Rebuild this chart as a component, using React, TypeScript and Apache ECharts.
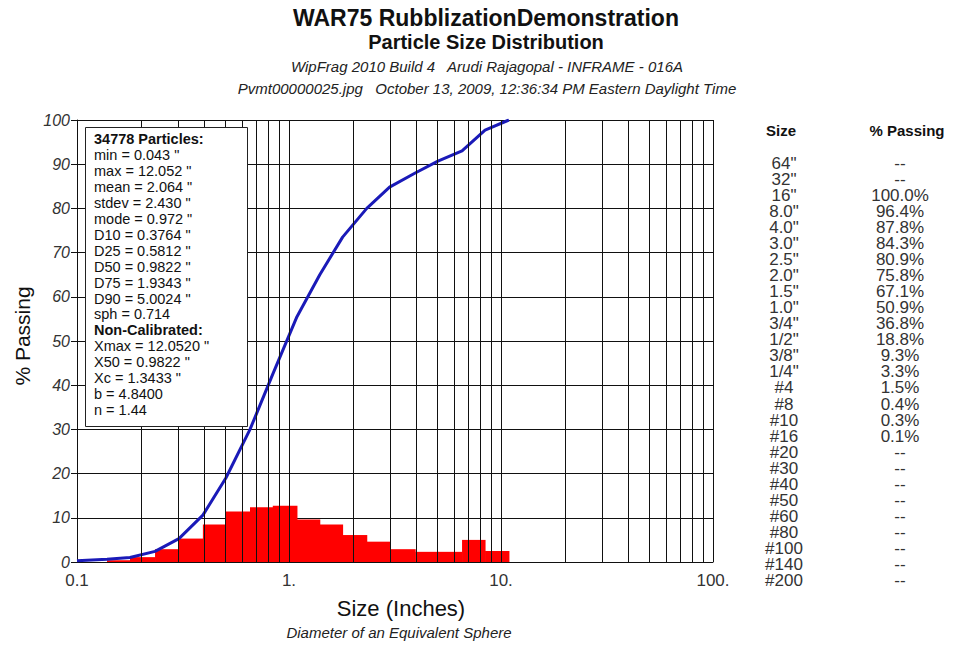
import React, { useEffect, useRef } from "react";
import * as echarts from "echarts";

// ---------- data ----------
const titleLines = ["WAR75 RubblizationDemonstration", "Particle Size Distribution"];
const titleSizes = [23, 20];
const subtitleLines = [
  "WipFrag 2010 Build 4   Arudi Rajagopal - INFRAME - 016A",
  "Pvmt00000025.jpg   October 13, 2009, 12:36:34 PM Eastern Daylight Time",
];

// histogram bins (inches) and % of particles in each bin
const binEdges = [0.1385, 0.1778, 0.2334, 0.3027, 0.3925, 0.5038, 0.6547, 0.8385, 1.0903, 1.397, 1.79, 2.327, 2.981, 3.938, 5.04, 6.55, 8.41, 10.9];
const binPercent = [0.4, 1.1, 2.9, 5.3, 8.5, 11.4, 12.4, 12.7, 9.6, 8.5, 6.1, 4.6, 2.9, 2.3, 2.3, 5.0, 2.5];

// cumulative % passing curve
const curveSizes = [0.1, 0.1385, 0.1778, 0.2334, 0.3027, 0.3925, 0.5038, 0.6547, 0.8385, 1.0903, 1.397, 1.79, 2.327, 2.981, 3.938, 5.04, 6.55, 8.41, 10.9];
const curvePassing = [0.3, 0.6, 1.0, 2.4, 5.3, 10.6, 19.0, 30.0, 42.5, 55.5, 65.0, 73.5, 80.0, 84.8, 88.0, 90.7, 93.0, 97.7, 100];

// axis ticks
const xTickValues = [0.1, 1, 10, 100];
const xTickLabels = ["0.1", "1.", "10.", "100."];
const xGridValues = [
  0.2, 0.3, 0.4, 0.5, 0.6, 0.7, 0.8, 0.9, 1,
  2, 3, 4, 5, 6, 7, 8, 9, 10,
  20, 30, 40, 50, 60, 70, 80, 90, 100,
];

// statistics box
const statsLines = [
  "34778 Particles:",
  "min = 0.043 \"",
  "max = 12.052 \"",
  "mean = 2.064 \"",
  "stdev = 2.430 \"",
  "mode = 0.972 \"",
  "D10 = 0.3764 \"",
  "D25 = 0.5812 \"",
  "D50 = 0.9822 \"",
  "D75 = 1.9343 \"",
  "D90 = 5.0024 \"",
  "sph = 0.714",
  "Non-Calibrated:",
  "Xmax = 12.0520 \"",
  "X50 = 0.9822 \"",
  "Xc = 1.3433 \"",
  "b = 4.8400",
  "n = 1.44",
];
const statsBold = ["34778 Particles:", "Non-Calibrated:"];

// sieve table
const sieveSizes = ["64\"", "32\"", "16\"", "8.0\"", "4.0\"", "3.0\"", "2.5\"", "2.0\"", "1.5\"", "1.0\"", "3/4\"", "1/2\"", "3/8\"", "1/4\"", "#4", "#8", "#10", "#16", "#20", "#30", "#40", "#50", "#60", "#80", "#100", "#140", "#200"];
const sievePassing = ["--", "--", "100.0%", "96.4%", "87.8%", "84.3%", "80.9%", "75.8%", "67.1%", "50.9%", "36.8%", "18.8%", "9.3%", "3.3%", "1.5%", "0.4%", "0.3%", "0.1%", "--", "--", "--", "--", "--", "--", "--", "--", "--"];

const FONT = "'Liberation Sans', Arial, sans-serif";

export default function App() {
  const ref = useRef<HTMLDivElement>(null);

  useEffect(() => {
    if (!ref.current) return;
    const chart = echarts.init(ref.current, null, { renderer: "svg" });

    const graphics: any[] = [];
    // titles
    titleLines.forEach((t, i) => {
      graphics.push({
        type: "text", x: 486, y: 18 + i * 24, z: 100,
        style: { text: t, font: `bold ${titleSizes[i]}px ${FONT}`, fill: "#111", textAlign: "center", textVerticalAlign: "middle" },
      });
    });
    subtitleLines.forEach((t, i) => {
      graphics.push({
        type: "text", x: 487, y: 66 + i * 22, z: 100,
        style: { text: t, font: `italic 15px ${FONT}`, fill: "#222", textAlign: "center", textVerticalAlign: "middle" },
      });
    });
    // y axis name
    graphics.push({
      type: "text", x: 22, y: 336, rotation: Math.PI / 2, z: 100,
      style: { text: "% Passing", font: `21px ${FONT}`, fill: "#111", textAlign: "center", textVerticalAlign: "middle" },
    });
    // x axis names
    graphics.push({
      type: "text", x: 401, y: 608, z: 100,
      style: { text: "Size (Inches)", font: `22px ${FONT}`, fill: "#111", textAlign: "center", textVerticalAlign: "middle" },
    });
    graphics.push({
      type: "text", x: 399, y: 632, z: 100,
      style: { text: "Diameter of an Equivalent Sphere", font: `italic 15px ${FONT}`, fill: "#222", textAlign: "center", textVerticalAlign: "middle" },
    });
    // stats box
    graphics.push({
      type: "rect", z: 100,
      shape: { x: 85.5, y: 127.5, width: 162, height: 299 },
      style: { fill: "#fff", stroke: "#222", lineWidth: 1 },
    });
    statsLines.forEach((t, i) => {
      const bold = statsBold.includes(t);
      graphics.push({
        type: "text", x: 94, y: 139 + i * 15.95, z: 101,
        style: { text: t, font: `${bold ? "bold " : ""}14.5px ${FONT}`, fill: "#111", textAlign: "left", textVerticalAlign: "middle" },
      });
    });
    // table
    graphics.push({
      type: "text", x: 781, y: 130, z: 100,
      style: { text: "Size", font: `bold 15px ${FONT}`, fill: "#111", textAlign: "center", textVerticalAlign: "middle" },
    });
    graphics.push({
      type: "text", x: 907, y: 130, z: 100,
      style: { text: "% Passing", font: `bold 15px ${FONT}`, fill: "#111", textAlign: "center", textVerticalAlign: "middle" },
    });
    sieveSizes.forEach((s, i) => {
      graphics.push({
        type: "text", x: 784, y: 163 + i * 16.07, z: 100,
        style: { text: s, font: `17px ${FONT}`, fill: "#333", textAlign: "center", textVerticalAlign: "middle" },
      });
      graphics.push({
        type: "text", x: 900, y: 163 + i * 16.07, z: 100,
        style: { text: sievePassing[i], font: `17px ${FONT}`, fill: "#333", textAlign: "center", textVerticalAlign: "middle" },
      });
    });

    const option: any = {
      animation: false,
      backgroundColor: "#fff",
      grid: { left: 77, right: 243, top: 120, bottom: 83, containLabel: false },
      xAxis: {
        type: "log",
        logBase: 10,
        min: 0.1,
        max: 100,
        axisLine: { show: true, lineStyle: { color: "#111", width: 1 } },
        axisTick: { show: false },
        splitLine: { show: false },
        axisLabel: {
          color: "#333",
          fontSize: 17,
          fontFamily: FONT,
          margin: 10,
          formatter: (v: number) => {
            const idx = xTickValues.findIndex((t) => Math.abs(Math.log10(t) - Math.log10(v)) < 1e-6);
            return idx >= 0 ? xTickLabels[idx] : "";
          },
        },
      },
      yAxis: {
        type: "value",
        min: 0,
        max: 100,
        interval: 10,
        axisLine: { show: true, lineStyle: { color: "#111", width: 1 } },
        axisTick: { show: true, inside: false, length: 6, lineStyle: { color: "#111" } },
        splitLine: { show: true, lineStyle: { color: "#111", width: 1 } },
        axisLabel: { color: "#333", fontSize: 16, fontStyle: "italic", fontFamily: FONT, margin: 7 },
      },
      graphic: { elements: graphics },
      series: [
        {
          type: "line",
          name: "grid",
          z: 1,
          silent: true,
          data: [[0.1, 0]],
          symbol: "none",
          lineStyle: { opacity: 0 },
          markLine: {
            silent: true,
            symbol: ["none", "none"],
            label: { show: false },
            lineStyle: { color: "#111", width: 1, type: "solid" },
            emphasis: { disabled: true },
            data: xGridValues.map((v) => ({ xAxis: v })),
          },
        },
        {
          type: "custom",
          name: "histogram",
          z: 3,
          silent: true,
          encode: { x: [0, 1], y: 2 },
          data: binPercent.map((h, i) => [binEdges[i], binEdges[i + 1], h]),
          renderItem: (_params: any, api: any) => {
            const p0 = api.coord([api.value(0), api.value(2)]);
            const p1 = api.coord([api.value(1), 0]);
            return {
              type: "rect",
              shape: { x: p0[0], y: p0[1], width: p1[0] - p0[0] + 0.5, height: p1[1] - p0[1] },
              style: { fill: "#ff0000" },
            };
          },
        },
        {
          type: "line",
          name: "passing",
          z: 4,
          silent: true,
          symbol: "none",
          data: curveSizes.map((s, i) => [s, curvePassing[i]]),
          lineStyle: { color: "#1a1ab8", width: 3 },
        },
      ],
    };

    chart.setOption(option);
    return () => chart.dispose();
  }, []);

  return (
    <div
      ref={ref}
      style={{ position: "absolute", left: 0, top: 0, width: 956, height: 645, background: "#fff" }}
    />
  );
}
